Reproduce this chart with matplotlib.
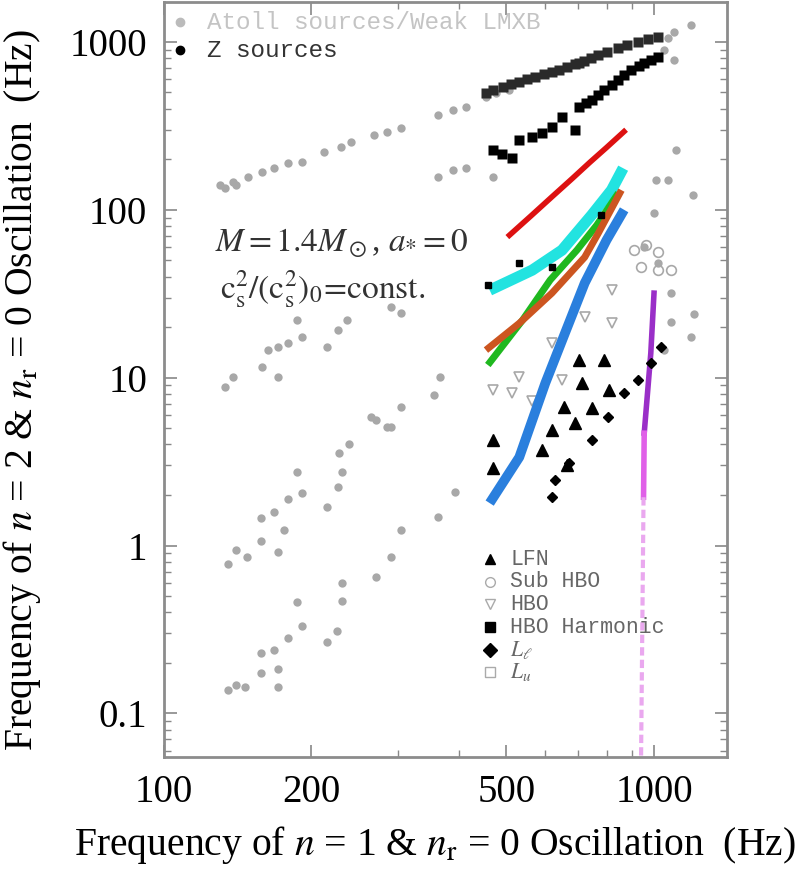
import numpy as np
import matplotlib
matplotlib.use("Agg")
import matplotlib.pyplot as plt

plt.rcParams['font.family'] = 'serif'
plt.rcParams['font.serif'] = ['Liberation Serif', 'DejaVu Serif']
plt.rcParams['mathtext.fontset'] = 'stix'

# ---- data (Hz) ----
# atoll sources / weak LMXB (gray dots)
atoll_x = [130, 133, 138, 140, 148.5, 158.5, 168, 179, 191, 212, 230, 241, 268, 285, 304,
           363, 389, 413, 454, 475, 507,
           363, 389, 413, 469,
           1047, 1067, 1097, 1188, 1097,
           1107, 1009, 1067, 1199, 1000, 955, 1019, 1082, 1205, 1082, 1188, 1047,
           133, 138, 158.5, 163, 171, 171, 179, 191, 215, 226, 236, 187, 290, 304, 366,
           264, 285, 304, 239, 355,
           135, 140, 148, 158, 158, 168, 171, 176, 179, 191, 187, 215, 226, 231, 228,
           290, 271, 290, 305, 363, 393,
           135, 140, 146, 158, 158, 168, 171, 171, 179, 191, 187, 215, 225, 231, 231, 271]
atoll_y = [140, 135, 146, 140, 157, 168, 177, 190, 193, 221, 237, 254, 279, 290, 307,
           367, 393, 410, 470, 497, 518,
           157, 173, 177, 157,
           896, 1056, 1147, 1262, 781,
           227, 150, 150, 122, 95.7, 60, 48, 32, 24, 21.4, 17.4, 14.6,
           8.8, 10.1, 11.6, 14.6, 15.2, 10.1, 16.1, 17.4, 15.2, 19.2, 22, 22, 26.3, 24.2, 10.1,
           5.8, 5.1, 6.7, 4.0, 7.9,
           0.78, 0.94, 0.85, 1.45, 1.07, 1.58, 0.91, 1.23, 1.89, 2.05, 2.73, 1.69, 2.22, 2.73, 3.55,
           5.07, 5.58, 0.85, 1.23, 1.47, 2.08,
           0.137, 0.147, 0.143, 0.173, 0.23, 0.24, 0.185, 0.143, 0.28, 0.33, 0.46, 0.265, 0.31,
           0.47, 0.60, 0.65]

# Z sources (black dots)
z_up_x = [454, 470, 491, 510, 531, 550, 572, 595, 619, 640, 665, 690, 702, 720, 745, 770,
          800, 846, 880, 929, 970, 1019]
z_up_y = [497, 515, 540, 560, 578, 600, 619, 645, 665, 681, 705, 735, 750, 770, 800, 837,
          870, 921, 955, 1000, 1035, 1071]
z_lo_x = [469, 490, 514, 531, 564, 591, 619, 649, 689, 702, 725, 746, 770, 792, 820, 846,
          870, 899, 930, 955, 985, 1019]
z_lo_y = [227, 215, 203, 261, 272, 287, 311, 357, 299, 410, 430, 451, 485, 517, 555, 593,
          640, 681, 715, 750, 785, 815]

# LFN (black triangles)
lfn_x = [702, 712, 792, 811, 746, 655, 689, 619, 591, 469, 469, 664]
lfn_y = [12.7, 9.27, 12.7, 8.43, 6.58, 6.7, 5.35, 4.87, 3.70, 4.24, 2.88, 3.01]
# sub HBO (gray open circles)
subhbo_x = [912, 963, 1019, 941, 1019, 1082]
subhbo_y = [57.5, 61.6, 56, 45.6, 43.7, 43.7]
# HBO (gray down triangles)
hbo_x = [514, 531, 564, 619, 722, 820, 820, 649, 469]
hbo_y = [8.09, 10.1, 7.3, 16.1, 23.1, 21.1, 33.2, 9.66, 8.4]
# HBO harmonic (black squares)
harm_x = [458, 531, 619, 781]
harm_y = [35.7, 48.0, 45.6, 93]
# lower kHz (black diamonds)
ll_x = [619, 628, 670, 746, 807, 869, 929, 986, 1033]
ll_y = [1.94, 2.45, 3.09, 4.24, 5.82, 8.09, 9.66, 12.2, 15.2]

# model curves
red_x = [502, 560, 620, 680, 740, 800, 877]
red_y = [68.8, 91.6, 120, 153, 192, 235, 300]
cyan_x = [462, 564, 649, 746, 819, 865]
cyan_y = [33.2, 43.7, 57.5, 93, 131, 177]
green_x = [458, 539, 614, 696, 764, 846]
green_y = [11.9, 22.0, 38.2, 57.5, 81, 126]
orange_x = [454, 531, 619, 722, 770, 858]
orange_y = [14.6, 21.1, 31.9, 52.2, 72.7, 131]
blue_x = [462, 531, 600, 658, 722, 800, 869]
blue_y = [1.79, 3.36, 9.27, 18.4, 36.6, 66, 100]
purple_x = [1000, 985, 955]
purple_y = [31.9, 14.0, 4.67]
magenta_x = [955, 952]
magenta_y = [4.67, 1.94]
pink_x = [952, 941]
pink_y = [1.94, 0.055]

fig = plt.figure(figsize=(8.11, 8.74), dpi=100)
ax = fig.add_axes([0.2022, 0.1339, 0.6942, 0.8638])
ax.set_xscale('log')
ax.set_yscale('log')

gray = '#a8a8a8'
ax.plot(atoll_x, atoll_y, 'o', color=gray, ms=6, mec='none', zorder=2)
ax.plot(subhbo_x, subhbo_y, 'o', mfc='none', mec=gray, ms=7, mew=1.2, zorder=2)
ax.plot(hbo_x, hbo_y, 'v', mfc='none', mec=gray, ms=7, mew=1.2, zorder=2)

ax.plot(red_x, red_y, color='#dd1111', lw=4, solid_capstyle='butt', zorder=3)
ax.plot(cyan_x, cyan_y, color='#22e3e0', lw=8, solid_capstyle='butt', zorder=3)
ax.plot(green_x, green_y, color='#1fb81f', lw=5, solid_capstyle='butt', zorder=3)
ax.plot(orange_x, orange_y, color='#cc5520', lw=5, solid_capstyle='butt', zorder=3)
ax.plot(blue_x, blue_y, color='#2a7fdd', lw=7, solid_capstyle='butt', zorder=3)
ax.plot(purple_x, purple_y, color='#9a2fc8', lw=4, zorder=3)
ax.plot(magenta_x, magenta_y, color='#e060e8', lw=4, zorder=3)
ax.plot(pink_x, pink_y, color='#eaa8ef', lw=3, ls=(0, (2, 1)), zorder=3)

ax.plot(z_up_x, z_up_y, 's', color='#2a2a2a', ms=7.5, mec='none', zorder=4)
ax.plot(z_lo_x, z_lo_y, 's', color='black', ms=7.5, mec='none', zorder=4)
ax.plot(lfn_x, lfn_y, '^', color='black', ms=8, zorder=4)
ax.plot(harm_x, harm_y, 's', color='black', ms=5, zorder=4)
ax.plot(ll_x, ll_y, 'D', color='black', ms=5, zorder=4)

ax.set_xlim(101, 1409)
ax.set_ylim(0.055, 1730)
ax.set_xticks([100, 200, 500, 1000])
ax.set_xticklabels(['100', '200', '500', '1000'])
ax.set_yticks([0.1, 1, 10, 100, 1000])
ax.set_yticklabels(['0.1', '1', '10', '100', '1000'])
ax.tick_params(which='both', direction='in', top=True, right=True, color='#888888',
               labelsize=28, pad=12)
ax.tick_params(which='major', length=9, width=1.2)
ax.tick_params(which='minor', length=5, width=1)
for s in ax.spines.values():
    s.set_color('#8c8c8c')
    s.set_linewidth(2)

# top-left legend
mono = 'Liberation Mono'
ax.plot([0.028], [0.9735], 'o', color='#bbbbbb', ms=6, transform=ax.transAxes)
ax.text(0.076, 0.9735, 'Atoll sources/Weak LMXB', transform=ax.transAxes, family=mono,
        fontsize=17.5, color='#c4c4c4', va='center')
ax.plot([0.028], [0.936], 'o', color='black', ms=6, transform=ax.transAxes)
ax.text(0.076, 0.936, 'Z sources', transform=ax.transAxes, family=mono,
        fontsize=17.5, color='#333333', va='center')

# bottom legend
rows = [('^', 'black', 'black', 'LFN'),
        ('o', 'none', '#aaaaaa', 'Sub HBO'),
        ('v', 'none', '#aaaaaa', 'HBO'),
        ('s', 'black', 'black', 'HBO Harmonic'),
        ('D', 'black', 'black', r'$L_\ell$'),
        ('s', 'none', '#aaaaaa', r'$L_u$')]
ys = [0.262, 0.232, 0.202, 0.172, 0.142, 0.112]
for (m, fc, ec, lab), yy in zip(rows, ys):
    ax.plot([0.579], [yy], m, mfc=fc, mec=ec, ms=7, transform=ax.transAxes)
    ax.text(0.615, yy, lab, transform=ax.transAxes, family=mono, fontsize=15.5,
            color='#666666', va='center')

ax.text(0.09, 0.68, r'$M=1.4M_\odot$, $a_{*}=0$', transform=ax.transAxes,
        fontsize=24, color='#333333', va='center')
ax.text(0.10, 0.62, r'$\mathrm{c_s^2/(c_s^2)_0\!=\!const.}$', transform=ax.transAxes,
        fontsize=24, color='#333333', va='center')

fig.text(0.536, 0.033, r'Frequency of $n$ = 1 & $n_\mathrm{r}$ = 0 Oscillation  (Hz)',
         ha='center', va='center', fontsize=28.5)
fig.text(0.027, 0.554, r'Frequency of $n$ = 2 & $n_\mathrm{r}$ = 0 Oscillation  (Hz)',
         ha='center', va='center', fontsize=28.5, rotation=90)

fig.savefig('out.png', dpi=100)
